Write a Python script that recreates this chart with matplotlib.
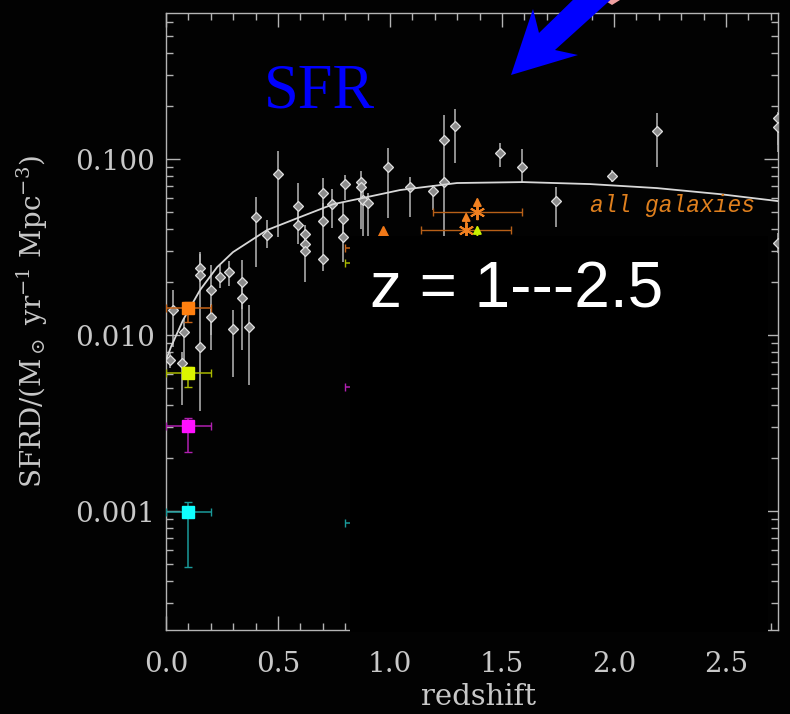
import matplotlib
matplotlib.use("Agg")
import matplotlib.pyplot as plt
import numpy as np
from matplotlib.patches import Rectangle, Polygon
from matplotlib.ticker import FixedLocator, NullFormatter, LogLocator, MultipleLocator

plt.rcParams["mathtext.fontset"] = "dejavuserif"

# ---------------- data ----------------
# compilation points (gray diamonds): redshift, SFRD, lower bound, upper bound
gray_z = [0.03, 0.08, 0.02, 0.07, 0.15, 0.15, 0.15, 0.20, 0.20, 0.24, 0.28, 0.30,
          0.34, 0.34, 0.37, 0.40, 0.45, 0.50, 0.59, 0.59, 0.62, 0.62, 0.62, 0.70,
          0.70, 0.70, 0.74, 0.79, 0.79, 0.80, 0.87, 0.87, 0.88, 0.90, 0.99, 1.09,
          1.19, 1.24, 1.24, 1.29, 1.49, 1.59, 1.74, 1.99, 2.19, 2.73, 2.73, 2.73]
gray_v = [0.0139, 0.0104, 0.0072, 0.0069, 0.0241, 0.0219, 0.00855, 0.0180, 0.0127,
          0.0214, 0.0228, 0.0108, 0.0200, 0.0162, 0.0111, 0.0468, 0.0370, 0.0822,
          0.0541, 0.0422, 0.0375, 0.0329, 0.0300, 0.0641, 0.0445, 0.0270, 0.0555,
          0.0456, 0.0361, 0.0721, 0.0740, 0.0693, 0.0585, 0.0562, 0.0901, 0.0693,
          0.0658, 0.128, 0.074, 0.154, 0.108, 0.0901, 0.0577, 0.080, 0.144, 0.171,
          0.152, 0.0333]
gray_lo = [0.0086, 0.0062, 0.0065, 0.0040, 0.0200, 0.0125, 0.0037, 0.0082, 0.0100,
           0.0185, 0.0190, 0.0058, 0.0140, 0.0082, 0.0052, 0.0243, 0.0312, 0.0360,
           0.0440, 0.0330, 0.0330, 0.0300, 0.0200, 0.0450, 0.0330, 0.0230, 0.0406,
           0.0380, 0.0260, 0.0585, 0.0400, 0.0550, 0.0330, 0.0300, 0.0463, 0.0470,
           0.0513, 0.0900, 0.0360, 0.0949, 0.0900, 0.0730, 0.0410, 0.0740, 0.0900,
           0.1200, 0.1100, 0.0292]
gray_hi = [0.0180, 0.0125, 0.0080, 0.0080, 0.0290, 0.0296, 0.0125, 0.0250, 0.0150,
           0.0250, 0.0265, 0.0138, 0.0267, 0.0200, 0.0148, 0.0608, 0.0450, 0.111,
           0.0730, 0.0500, 0.0420, 0.0360, 0.0330, 0.0780, 0.0560, 0.0330, 0.0675,
           0.0560, 0.0420, 0.0817, 0.0850, 0.0780, 0.0660, 0.0640, 0.1155, 0.0790,
           0.0712, 0.178, 0.090, 0.192, 0.123, 0.114, 0.0693, 0.0866, 0.1825,
           0.185, 0.170, 0.0380]

# fit curve
curve_z = [0.0, 0.022, 0.076, 0.152, 0.228, 0.299, 0.451, 0.598, 0.746, 0.897,
           1.045, 1.299, 1.594, 1.893, 2.192, 2.473, 2.732]
curve_v = [0.00721, 0.00855, 0.01216, 0.01803, 0.0243, 0.0296, 0.0395, 0.0468,
           0.0554, 0.0608, 0.0667, 0.0731, 0.0740, 0.0721, 0.0684, 0.0632, 0.0577]

# local z~0.1 squares by mass bin
sq_z = [0.1, 0.1, 0.1, 0.1]
sq_v = [0.0142, 0.00608, 0.00304, 0.000987]
sq_lo = [0.0119, 0.00507, 0.00216, 0.00048]
sq_hi = [0.0155, 0.0066, 0.0034, 0.00112]
sq_xerr = [0.1, 0.1, 0.1, 0.1]
sq_colors = ["#ff8010", "#dcf500", "#ff10ff", "#10ffff"]
sq_ecolors = ["#c86418", "#a8b800", "#b020b0", "#1a9a9a"]

# hidden z~1 points (only left caps visible)
hid_z = [1.0, 1.0, 1.0, 1.0]
hid_v = [0.0312, 0.0256, 0.0051, 0.00086]

# lower limits near z~1.4
lim_z = [1.39, 1.34, 1.39]
lim_v = [0.050, 0.0395, 0.036]
lim_up = [0.0608, 0.050, 0.0422]
lim_xerr = [0.2, 0.2, 0.0]
lim_colors = ["#f08020", "#f08020", "#c8f000"]

tri_z = [0.97]
tri_v = [0.038]

xticks = [0.0, 0.5, 1.0, 1.5, 2.0, 2.5]
xticklabels = ["0.0", "0.5", "1.0", "1.5", "2.0", "2.5"]
yticks = [0.001, 0.01, 0.1]
yticklabels = ["0.001", "0.010", "0.100"]

# ---------------- figure ----------------
W, H = 790, 714
BG = "#020202"
fig = plt.figure(figsize=(W / 100, H / 100), dpi=100, facecolor=BG)
ax = fig.add_axes([166 / W, 1 - 630 / H, (778 - 166) / W, (630 - 13) / H])
ax.set_facecolor(BG)
ax.set_yscale("log")
ax.set_xlim(0, 2.732)
ax.set_ylim(2.11e-4, 0.676)

axcol = "#b4b4b4"
txtcol = "#c8c8c8"
for s in ax.spines.values():
    s.set_color(axcol)
    s.set_linewidth(1.0)

ax.xaxis.set_major_locator(FixedLocator(xticks))
ax.set_xticklabels(xticklabels)
ax.xaxis.set_minor_locator(MultipleLocator(0.1))
ax.yaxis.set_major_locator(FixedLocator(yticks))
ax.set_yticklabels(yticklabels)
ax.yaxis.set_minor_locator(LogLocator(base=10, subs=np.arange(2, 10)))
ax.yaxis.set_minor_formatter(NullFormatter())

ax.tick_params(which="both", direction="in", top=True, right=True, colors=axcol,
               labelcolor=txtcol, width=1.0)
ax.tick_params(which="major", length=10)
ax.tick_params(which="minor", length=5)
ax.tick_params(axis="x", which="major", pad=15)
ax.tick_params(axis="y", which="major", pad=8)
for lab in ax.get_xticklabels() + ax.get_yticklabels():
    lab.set_fontfamily("DejaVu Serif")
    lab.set_fontsize(20)

ax.set_xlabel("redshift", color=txtcol, fontfamily="DejaVu Serif", fontsize=21)
ax.xaxis.set_label_coords(0.51, -0.086)
ax.set_ylabel(r"SFRD/(M$_\odot$ yr$^{-1}$ Mpc$^{-3}$)", color=txtcol,
              fontfamily="DejaVu Serif", fontsize=20)
ax.yaxis.set_label_coords(-0.19, 0.5)

# gray compilation
gv = np.array(gray_v)
yerr = [gv - np.array(gray_lo), np.array(gray_hi) - gv]
ax.errorbar(gray_z, gray_v, yerr=yerr, fmt="D", ms=5, mfc="#8c8c8c",
            mec="#e0e0e0", mew=0.9, ecolor="#b8b8b8", elinewidth=1.1, capsize=0,
            zorder=3)

# curve
ax.plot(curve_z, curve_v, color="#d8d8d8", lw=1.3, zorder=4)

# squares
for z, v, lo, hi, xe, c, ec in zip(sq_z, sq_v, sq_lo, sq_hi, sq_xerr, sq_colors, sq_ecolors):
    ax.errorbar([z], [v], yerr=[[v - lo], [hi - v]], xerr=[xe], fmt="s", ms=9,
                mfc=c, mec=c, ecolor=ec, elinewidth=1.1, capsize=3, zorder=5)

# hidden squares at z~1 (left caps peek out)
for z, v, c, ec in zip(hid_z, hid_v, sq_colors, sq_ecolors):
    ax.errorbar([z], [v], xerr=[0.2], fmt="s", ms=9, mfc=c, mec=c, ecolor=ec,
                elinewidth=1.1, capsize=3, zorder=5)

# lower limits: asterisk, horizontal range and upward arrow
for z, v, up, xe, c in zip(lim_z, lim_v, lim_up, lim_xerr, lim_colors):
    if xe > 0:
        ax.errorbar([z], [v], xerr=[xe], fmt="none", ecolor="#b86018",
                    elinewidth=1.0, capsize=3, zorder=5)
        ax.plot([z], [v], marker=(6, 2, 0), ms=11, mew=1.4, color=c,
                linestyle="none", zorder=6)
    ax.annotate("", xy=(z, up), xytext=(z, v),
                arrowprops=dict(arrowstyle="-|>,head_width=0.25,head_length=0.5",
                                color=c, lw=1.3, shrinkA=0, shrinkB=0),
                zorder=6)

ax.plot(tri_z, tri_v, "^", ms=10, color="#f07818", zorder=5)

# "all galaxies" label
fig.text(590 / W, 1 - 212 / H, "all galaxies", color="#e0801e", fontsize=16.5,
         fontstyle="italic", family="Liberation Mono", va="baseline", ha="left",
         zorder=6)
fig.text(637 / W, 1 - 252 / H, r"(M$_*$)", color="white", fontsize=16,
         family="DejaVu Serif", va="baseline", ha="left", zorder=6)

# black overlay box
fig.patches.append(Rectangle((350 / W, 1 - 632 / H), (768 - 350) / W, (632 - 236) / H,
                             transform=fig.transFigure, facecolor="black",
                             edgecolor="none", zorder=20))
fig.text(370 / W, 1 - 307 / H, "z = 1---2.5", color="white", fontsize=46,
         family="Liberation Sans", va="baseline", ha="left", zorder=21)

# SFR label
fig.text(264 / W, 1 - 107 / H, "SFR", color="#0000ff", fontsize=45,
         family="Liberation Serif", va="baseline", ha="left", zorder=21)

# blue arrow
arrow_px = [(511, 75), (533, 9), (539, 33), (579, -6), (617, -6), (555, 50), (578, 55)]
fig.patches.append(Polygon([(x / W, 1 - y / H) for x, y in arrow_px], closed=True,
                           transform=fig.transFigure, facecolor="#0000ff",
                           edgecolor="none", zorder=22))
fig.patches.append(Polygon([(x / W, 1 - y / H) for x, y in [(604, 0), (620, 0), (612, 5)]],
                           closed=True, transform=fig.transFigure,
                           facecolor="#f0a0a0", edgecolor="none", zorder=21))

fig.savefig("out.png", dpi=100, facecolor=fig.get_facecolor())
